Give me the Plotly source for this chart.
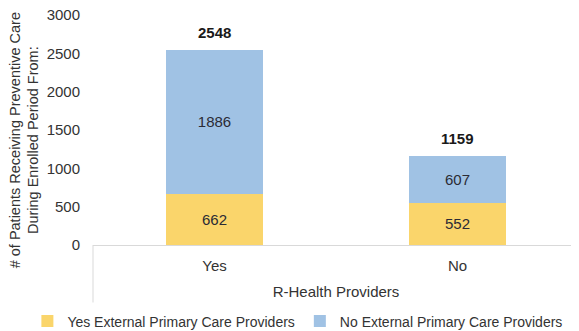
import plotly.graph_objects as go

categories = ["Yes", "No"]
yes_external = [662, 552]
no_external = [1886, 607]
totals = [a + b for a, b in zip(yes_external, no_external)]

FONT = "Liberation Sans, Arial, sans-serif"
YELLOW = "#FAD56B"
BLUE = "#A0C2E4"
FS = 15

fig = go.Figure()
fig.add_trace(go.Bar(
    x=categories, y=yes_external, name="Yes External Primary Care Providers",
    marker=dict(color=YELLOW, line=dict(width=0)),
    text=[str(v) for v in yes_external], textposition="inside", insidetextanchor="middle",
    textangle=0, constraintext="none",
    textfont=dict(color="#2b2b35", size=FS, family=FONT),
))
fig.add_trace(go.Bar(
    x=categories, y=no_external, name="No External Primary Care Providers",
    marker=dict(color=BLUE, line=dict(width=0)),
    text=[str(v) for v in no_external], textposition="inside", insidetextanchor="middle",
    textangle=0, constraintext="none",
    textfont=dict(color="#2b2b35", size=FS, family=FONT),
))
for c, t in zip(categories, totals):
    fig.add_annotation(x=c, y=t, text=f"<b>{t}</b>", showarrow=False, yanchor="bottom",
                       yshift=7, font=dict(size=FS, color="#1a1a1a", family=FONT))

# y-axis title (two lines, rotated)
fig.add_annotation(text="# of Patients Receiving Preventive Care<br>During Enrolled Period From:",
                   xref="paper", yref="paper", x=-0.142, y=0.455, xanchor="center", yanchor="middle",
                   textangle=-90, showarrow=False, align="center",
                   font=dict(size=14.5, color="#333333", family=FONT))

fig.add_shape(type="line", xref="paper", yref="paper", x0=0, x1=0, y0=0, y1=-0.25,
              line=dict(color="#d9d9d9", width=1))

fig.update_layout(
    barmode="stack", bargap=0.6,
    width=571, height=323,
    margin=dict(l=85, r=0, t=7, b=86, autoexpand=False),
    paper_bgcolor="white", plot_bgcolor="white",
    font=dict(family=FONT, size=FS, color="#333333"),
    showlegend=True,
    legend=dict(orientation="h", x=-0.135, xanchor="left", y=-0.263, yanchor="top",
                font=dict(size=14, color="#333333"), traceorder="normal",
                itemwidth=30, tracegroupgap=0),
    xaxis=dict(showgrid=False, showline=True, linecolor="#d9d9d9", linewidth=1,
               ticks="", tickfont=dict(size=FS, color="#333333"), ticklabelstandoff=7,
               title=dict(text="R-Health Providers", font=dict(size=FS, color="#333333"), standoff=13)),
    yaxis=dict(range=[0, 3000], dtick=500, showgrid=False, showline=False, zeroline=False,
               ticks="", tickfont=dict(size=FS, color="#333333"), ticklabelstandoff=12,
               ticklabeloverflow="allow"),
)
fig.write_html("out.html")
